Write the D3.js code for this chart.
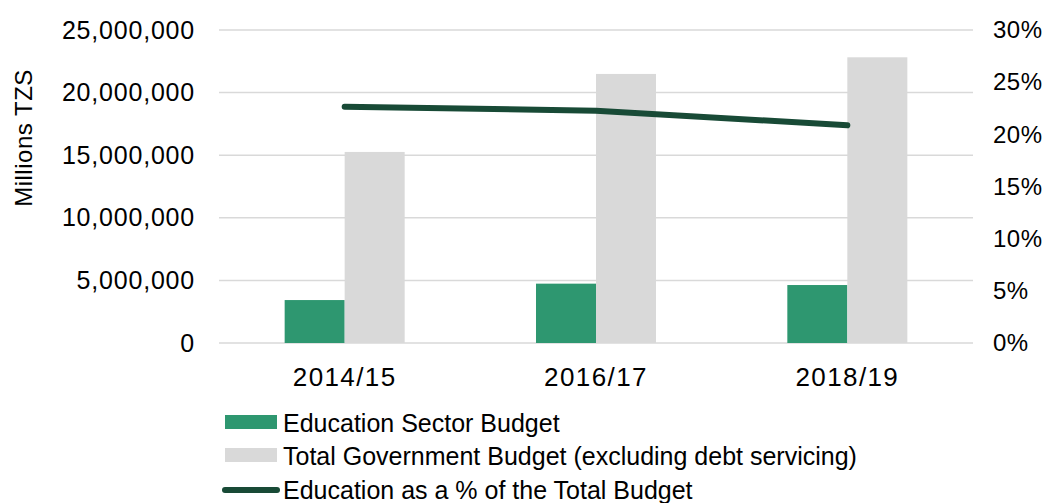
<!DOCTYPE html>
<html>
<head>
<meta charset="utf-8">
<script src="https://cdn.jsdelivr.net/npm/d3@7"></script>
<style>
  html, body { margin: 0; padding: 0; background: #fff; }
  svg { display: block; }
</style>
</head>
<body>
<svg id="chart" width="1047" height="503"></svg>
<script>
// Budget figures, millions of TZS
const years = ["2014/15", "2016/17", "2018/19"];
const educationBudget = [3430000, 4740000, 4630000];
const totalBudget = [15260000, 21490000, 22820000];
// Education share of the total budget, percent
const educationShare = [22.65, 22.27, 20.87];

const leftTicks = [0, 5000000, 10000000, 15000000, 20000000, 25000000];
const rightTicks = [0, 5, 10, 15, 20, 25, 30];

const seriesNames = [
  "Education Sector Budget",
  "Total Government Budget (excluding debt servicing)",
  "Education as a % of the Total Budget"
];
const colors = { edu: "#2e9770", total: "#d9d9d9", line: "#184a36", grid: "#d9d9d9" };

const svg = d3.select("#chart");
const font = "'Liberation Sans', Arial, sans-serif";

const plot = { left: 219, right: 973, top: 30, bottom: 343 };

const x = d3.scaleBand().domain(years).range([plot.left, plot.right])
  .paddingInner(0.5225).paddingOuter(0.26125);
const xInner = d3.scaleBand().domain(["edu", "total"]).range([0, x.bandwidth()]);
const yLeft = d3.scaleLinear().domain([0, 25000000]).range([plot.bottom, plot.top]);
const yRight = d3.scaleLinear().domain([0, 30]).range([plot.bottom, plot.top]);

// gridlines
svg.append("g").selectAll("line").data(leftTicks).join("line")
  .attr("x1", plot.left).attr("x2", plot.right)
  .attr("y1", d => yLeft(d)).attr("y2", d => yLeft(d))
  .attr("stroke", colors.grid).attr("stroke-width", 1.5);

// left axis
const fmt = d3.format(",");
const leftAxis = d3.axisLeft(yLeft).tickValues(leftTicks).tickFormat(fmt).tickSize(0).tickPadding(0);
const gL = svg.append("g").attr("transform", `translate(195,0)`).call(leftAxis);
gL.select(".domain").remove();
gL.selectAll("text").attr("font-family", font).attr("font-size", 25)
  .attr("letter-spacing", 0.8).attr("fill", "#000");

// right axis
const rightAxis = d3.axisRight(yRight).tickValues(rightTicks).tickFormat(d => d + "%").tickSize(0).tickPadding(0);
const gR = svg.append("g").attr("transform", `translate(993,0)`).call(rightAxis);
gR.select(".domain").remove();
gR.selectAll("text").attr("font-family", font).attr("font-size", 24)
  .attr("letter-spacing", 0.5).attr("fill", "#000");

// y axis title
svg.append("text")
  .attr("transform", `translate(32,138) rotate(-90)`)
  .attr("text-anchor", "middle")
  .attr("font-family", font).attr("font-size", 24)
  .attr("letter-spacing", 0.5)
  .text("Millions TZS");

// bars
const groups = svg.append("g").selectAll("g").data(years).join("g")
  .attr("transform", d => `translate(${x(d)},0)`);
groups.append("rect")
  .attr("x", xInner("edu")).attr("width", xInner.bandwidth())
  .attr("y", (d, i) => yLeft(educationBudget[i]))
  .attr("height", (d, i) => yLeft(0) - yLeft(educationBudget[i]))
  .attr("fill", colors.edu);
groups.append("rect")
  .attr("x", xInner("total")).attr("width", xInner.bandwidth())
  .attr("y", (d, i) => yLeft(totalBudget[i]))
  .attr("height", (d, i) => yLeft(0) - yLeft(totalBudget[i]))
  .attr("fill", colors.total);

// share line
const line = d3.line()
  .x((d, i) => x(years[i]) + x.bandwidth() / 2)
  .y(d => yRight(d));
svg.append("path").datum(educationShare)
  .attr("d", line).attr("fill", "none")
  .attr("stroke", colors.line).attr("stroke-width", 6)
  .attr("stroke-linecap", "round").attr("stroke-linejoin", "round");

// category axis
const xAxis = d3.axisBottom(x).tickSize(0).tickPadding(0);
const gX = svg.append("g").attr("transform", `translate(0,386)`).call(xAxis);
gX.select(".domain").remove();
gX.selectAll("text").attr("font-family", font).attr("font-size", 26)
  .attr("letter-spacing", 1.4).attr("fill", "#000")
  .attr("dy", 0);

// legend
const legend = svg.append("g");
const rows = [
  { name: seriesNames[0], type: "rect", color: colors.edu, y: 432 },
  { name: seriesNames[1], type: "rect", color: colors.total, y: 465 },
  { name: seriesNames[2], type: "line", color: colors.line, y: 499 }
];
rows.forEach(r => {
  if (r.type === "rect") {
    legend.append("rect").attr("x", 225).attr("y", r.y - 17).attr("width", 52).attr("height", 14).attr("fill", r.color);
  } else {
    legend.append("line").attr("x1", 225).attr("x2", 277).attr("y1", r.y - 9).attr("y2", r.y - 9)
      .attr("stroke", r.color).attr("stroke-width", 6).attr("stroke-linecap", "round");
  }
  legend.append("text").attr("x", 283).attr("y", r.y)
    .attr("font-family", font).attr("font-size", 25).attr("fill", "#000")
    .text(r.name);
});
</script>
</body>
</html>
